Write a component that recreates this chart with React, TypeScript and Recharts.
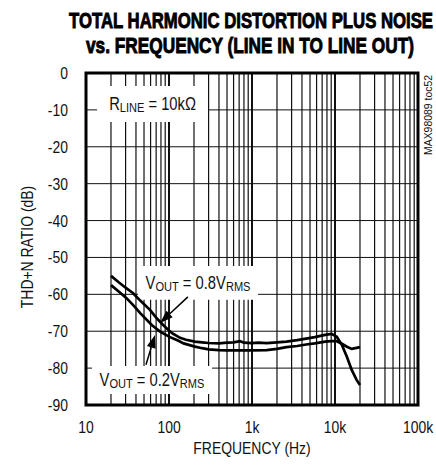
import React from 'react';
import { LineChart, Line, XAxis, YAxis, CartesianGrid, ReferenceArea, ReferenceLine } from 'recharts';

// VOUT = 0.8VRMS
const freq08 = [20, 25, 30, 37, 45, 59, 70, 85, 100, 110, 136, 160, 205, 250, 300, 400, 500, 600, 717, 800, 1000, 1200, 1500, 2000, 2600, 3500, 4500, 5700, 7600, 9100, 10500, 12100, 13900, 15900, 18200, 20000];
const thd08 = [-55.0, -56.8, -58.2, -59.7, -61.7, -64.2, -66.3, -68.3, -69.8, -70.6, -71.8, -72.3, -72.8, -73.0, -73.2, -73.3, -73.1, -73.0, -72.7, -73.1, -73.2, -73.1, -73.2, -73.0, -72.8, -72.4, -72.0, -71.6, -71.0, -70.7, -71.5, -73.7, -76.9, -80.5, -83.2, -84.6];

// VOUT = 0.2VRMS
const freq02 = [20, 25, 31, 38, 45, 62, 78, 103, 130, 150, 200, 250, 300, 400, 500, 700, 1000, 1500, 2000, 2600, 3500, 4500, 5700, 7600, 9100, 10500, 12100, 13900, 15900, 18200, 20000];
const thd02 = [-57.5, -59.3, -61.1, -63.2, -65.1, -68.3, -70.1, -71.6, -72.6, -73.3, -74.1, -74.6, -74.9, -75.1, -75.2, -75.2, -75.2, -75.1, -74.8, -74.3, -74.0, -73.6, -73.3, -72.8, -72.7, -72.7, -73.4, -74.2, -74.8, -74.5, -74.3];

const gridFreqs = [
  10, 20, 30, 40, 50, 60, 70, 80, 90,
  100, 200, 300, 400, 500, 600, 700, 800, 900,
  1000, 2000, 3000, 4000, 5000, 6000, 7000, 8000, 9000,
  10000, 20000, 30000, 40000, 50000, 60000, 70000, 80000, 90000,
  100000,
];
const decadeTicks = [10, 100, 1000, 10000, 100000];
const decadeLabels = ['10', '100', '1k', '10k', '100k'];
const yTicks = [-90, -80, -70, -60, -50, -40, -30, -20, -10, 0];

const titleLine1 = 'TOTAL HARMONIC DISTORTION PLUS NOISE';
const titleLine2 = 'vs. FREQUENCY (LINE IN TO LINE OUT)';
const xTitle = 'FREQUENCY (Hz)';
const yTitle = 'THD+N RATIO (dB)';
const sideNote = 'MAX98089 toc52';

const data08 = freq08.map((f, i) => ({ f, v: thd08[i] }));
const data02 = freq02.map((f, i) => ({ f, v: thd02[i] }));

const FONT = '"Liberation Sans", Arial, Helvetica, sans-serif';
const NARROW = 0.82;

const tickFmt = (v: number) => {
  const i = decadeTicks.indexOf(v);
  return i >= 0 ? decadeLabels[i] : '';
};

const XTick = (props: any) => {
  const { x, y, payload } = props;
  const s = tickFmt(payload.value);
  if (!s) return null;
  return (
    <text transform={`translate(${x},${y}) scale(${NARROW},1)`} textAnchor="middle" dy="0.71em"
      fontFamily={FONT} fontSize={17} fill="#111">{s}</text>
  );
};

const YTick = (props: any) => {
  const { x, y, payload } = props;
  return (
    <text transform={`translate(${x},${y}) scale(${NARROW},1)`} textAnchor="end" dy="0.355em"
      fontFamily={FONT} fontSize={17} fill="#111">{String(payload.value)}</text>
  );
};

const VLine = (props: any) => {
  const { x1, y1, x2, y2, index } = props;
  const f = gridFreqs[index];
  const isDecade = decadeTicks.indexOf(f) >= 0;
  return (
    <line key={`v-${index}`} x1={x1} y1={y1} x2={x2} y2={y2} stroke="#111" strokeWidth={isDecade ? 2 : 1.2} />
  );
};

const subLabel = (main: string, sub: string, mid: string, sub2?: string) => (props: any) => {
  const vb = props.viewBox || {};
  const cx = vb.x + vb.width / 2;
  const cy = vb.y + vb.height / 2;
  return (
    <text transform={`translate(${cx},${cy + 6.5}) scale(${NARROW},1)`} textAnchor="middle"
      fontFamily={FONT} fontSize={18} fill="#111">
      <tspan>{main}</tspan>
      <tspan fontSize={13.5} dy={1.5}>{sub}</tspan>
      <tspan dy={-1.5}>{mid}</tspan>
      {sub2 ? <tspan fontSize={13.5} dy={1.5}>{sub2}</tspan> : null}
    </text>
  );
};

const Arrow = (props: any) => {
  const { x1, y1, x2, y2 } = props;
  if ([x1, y1, x2, y2].some((v) => typeof v !== 'number' || isNaN(v))) return null;
  const dx = x2 - x1;
  const dy = y2 - y1;
  const len = Math.sqrt(dx * dx + dy * dy) || 1;
  const ux = dx / len;
  const uy = dy / len;
  const hl = 13;
  const hw = 4.5;
  const bx = x2 - ux * hl;
  const by = y2 - uy * hl;
  const pts = `${x2},${y2} ${bx - uy * hw},${by + ux * hw} ${bx + uy * hw},${by - ux * hw}`;
  return (
    <g>
      <line x1={x1} y1={y1} x2={bx} y2={by} stroke="#000" strokeWidth={1.5} />
      <polygon points={pts} fill="#000" />
    </g>
  );
};

export default function App() {
  return (
    <div style={{ position: 'absolute', left: 0, top: 0, width: 436, height: 465, background: '#fff' }}>
      <LineChart width={436} height={465} margin={{ top: 73, right: 18, bottom: 30, left: 26 }}>
        <CartesianGrid horizontal={{ stroke: '#111', strokeWidth: 1.4 }} vertical={VLine as any} stroke="#111" />
        <XAxis
          dataKey="f"
          type="number"
          scale="log"
          domain={[10, 100000]}
          allowDataOverflow
          ticks={gridFreqs}
          interval={0}
          tickLine={false}
          axisLine={false}
          tickMargin={10}
          height={30}
          tick={XTick}
        />
        <YAxis
          type="number"
          domain={[-90, 0]}
          ticks={yTicks}
          interval={0}
          tickLine={false}
          axisLine={false}
          width={60}
          tickMargin={12}
          tick={YTick}
        />
        <ReferenceArea x1={13.6} x2={295} y1={-13.3} y2={-3.5} fill="#fff" fillOpacity={1} stroke="none"
          label={subLabel('R', 'LINE', ' = 10k\u03A9')} />
        <ReferenceArea x1={42.4} x2={1181} y1={-61.5} y2={-52.3} fill="#fff" fillOpacity={1} stroke="none"
          label={subLabel('V', 'OUT', ' = 0.8V', 'RMS')} />
        <ReferenceArea x1={11.8} x2={330} y1={-87} y2={-79.4} fill="#fff" fillOpacity={1} stroke="none"
          label={subLabel('V', 'OUT', ' = 0.2V', 'RMS')} />
        <ReferenceArea x1={10} x2={100000} y1={-90} y2={0} fill="none" stroke="#000" strokeWidth={3} />
        <ReferenceLine segment={[{ x: 169, y: -60.7 }, { x: 78, y: -67.75 }]} shape={Arrow} />
        <ReferenceLine segment={[{ x: 52.8, y: -79.1 }, { x: 67.8, y: -71.0 }]} shape={Arrow} />
        <Line data={data08} dataKey="v" type="linear" stroke="#000" strokeWidth={2.7} dot={false} isAnimationActive={false} />
        <Line data={data02} dataKey="v" type="linear" stroke="#000" strokeWidth={2.7} dot={false} isAnimationActive={false} />
      </LineChart>
      <svg width={436} height={465} style={{ position: 'absolute', left: 0, top: 0, pointerEvents: 'none' }}>
        <text transform="translate(251,28.3) scale(0.72,1)" textAnchor="middle" fontFamily={FONT} fontWeight="bold"
          fontSize={21.5} textLength={364 / 0.72} lengthAdjust="spacingAndGlyphs" fill="#000"
          stroke="#000" strokeWidth={0.9}>{titleLine1}</text>
        <text transform="translate(250,53.3) scale(0.72,1)" textAnchor="middle" fontFamily={FONT} fontWeight="bold"
          fontSize={21.5} textLength={328 / 0.72} lengthAdjust="spacingAndGlyphs" fill="#000"
          stroke="#000" strokeWidth={0.9}>{titleLine2}</text>
        <text transform={`translate(252,454) scale(${NARROW},1)`} textAnchor="middle" fontFamily={FONT} fontSize={17} fill="#111">{xTitle}</text>
        <text transform={`translate(33,247) rotate(-90) scale(${NARROW},1)`} textAnchor="middle" fontFamily={FONT} fontSize={17} fill="#111">{yTitle}</text>
        <text transform="translate(432,75) rotate(-90)" textAnchor="end" fontFamily={FONT} fontSize={10.5}
          textLength={80} lengthAdjust="spacingAndGlyphs" fill="#111">{sideNote}</text>
      </svg>
    </div>
  );
}
